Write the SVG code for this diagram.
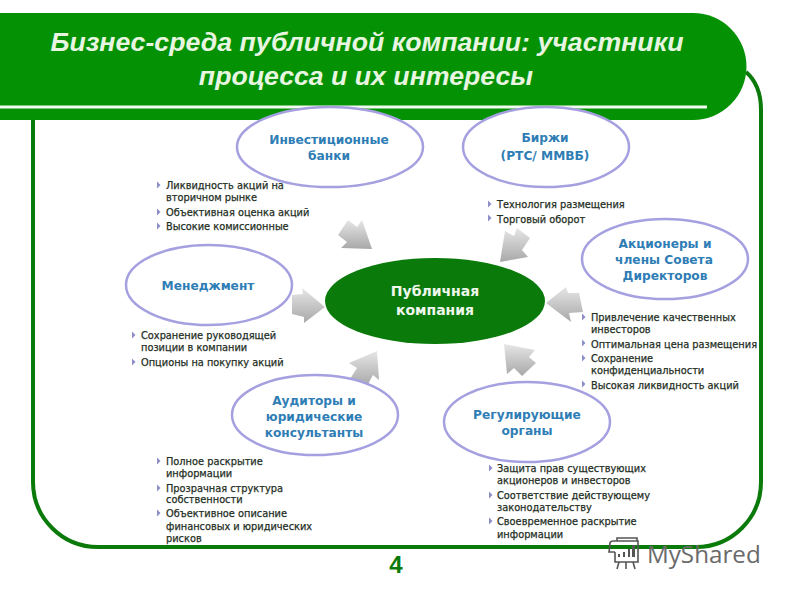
<svg xmlns="http://www.w3.org/2000/svg" width="800" height="600" viewBox="0 0 800 600">
<style>
text{font-family:"DejaVu Sans","Liberation Sans",sans-serif}
.t{font-family:"Liberation Sans",Arial,sans-serif;font-size:26.7px;font-weight:bold;font-style:italic;fill:#e8f5e0;text-anchor:middle}
.e{fill:#fff;stroke:#a5a0e0;stroke-width:2.5}
.n{font-size:12.2px;font-weight:bold;fill:#2e7db5;text-anchor:middle}
.c{font-size:14px;font-weight:bold;fill:#f0f8ee;text-anchor:middle}
.b{font-size:9.8px;fill:#1f2f1f;stroke:#1f2f1f;stroke-width:.25}
.m{fill:#8d8dc8}
.a{fill:url(#g)}
.l{fill:none;stroke:#555;stroke-width:1.6}
</style>
<defs>
<linearGradient id="g" x1="0" y1="0" x2="0" y2="1"><stop offset="0" stop-color="#e6e6e6"/><stop offset="1" stop-color="#a8a8a8"/></linearGradient>
<path id="tri" d="M0-3.500 3.500 0 0 3.500z" class="m"/>
</defs>
<rect width="800" height="600" fill="#fff"/>
<g id="frame"><path d="M33 110V482A65 65 0 0 0 98 547H696A65 65 0 0 0 761 482V110Q761 85 746 72" fill="none" stroke="#0a7a0a" stroke-width="4"/></g>
<g id="header">
<path d="M0 13H693A53.500 53.500 0 0 1 693 120H0z" fill="#049104"/>
<rect x="0" y="105.500" width="707" height="3" fill="#f2fbf0"/>
<text class="t" x="367" y="51">Бизнес-среда публичной компании: участники</text>
<text class="t" x="366" y="85">процесса и их интересы</text>
</g>
<g id="connectors">
<polygon class="a" points="338,235 348,220 357,227 362,220 372,249 341,248 347,242"/>
<polygon class="a" points="500,262 505,231 514,236 517,228 530,238 522,250 528,257"/>
<polygon class="a" points="546,303 566,287 568,293 579,293 583,312 569,313 571,322"/>
<polygon class="a" points="325,307 302,288 303,294 292,295 292,314 304,317 304,323"/>
<polygon class="a" points="377,351 349,363 357,368 350,379 367,386 373,375 379,380"/>
<polygon class="a" points="504,344 535,350 529,357 536,363 522,376 514,368 507,374"/>
</g>
<g id="center"><ellipse cx="435" cy="301" rx="110" ry="43" fill="#0a7a0a"/>
<text class="c" x="435" y="296">Публичная</text>
<text class="c" x="435" y="315">компания</text></g>
<g id="invest"><ellipse class="e" cx="330" cy="147" rx="93" ry="40"/>
<text class="n" x="329" y="144">Инвестиционные</text><text class="n" x="329" y="160">банки</text></g>
<g id="birzhi"><ellipse class="e" cx="546" cy="147" rx="83" ry="40"/>
<text class="n" x="545" y="142">Биржи</text><text class="n" x="545" y="160">(РТС/ ММВБ)</text></g>
<g id="akcionery"><ellipse class="e" cx="665" cy="259" rx="83" ry="40"/>
<text class="n" x="665" y="248">Акционеры и</text><text class="n" x="664" y="264">члены Совета</text><text class="n" x="665" y="280">Директоров</text></g>
<g id="menedzhment"><ellipse class="e" cx="209" cy="285" rx="83" ry="40"/>
<text class="n" x="208" y="290">Менеджмент</text></g>
<g id="auditory"><ellipse class="e" cx="315" cy="415" rx="83" ry="40"/>
<text class="n" x="314" y="405">Аудиторы и</text><text class="n" x="314" y="421">юридические</text><text class="n" x="314" y="437">консультанты</text></g>
<g id="reguliruyushchie"><ellipse class="e" cx="527" cy="422" rx="83" ry="40"/>
<text class="n" x="527" y="419">Регулирующие</text><text class="n" x="527" y="435">органы</text></g>
<g id="lists">
<use href="#tri" x="157" y="185"/><text class="b" x="166" y="189">Ликвидность акций на</text><text class="b" x="166" y="201">вторичном рынке</text>
<use href="#tri" x="157" y="212"/><text class="b" x="166" y="216">Объективная оценка акций</text>
<use href="#tri" x="157" y="226"/><text class="b" x="166" y="230">Высокие комиссионные</text>
<use href="#tri" x="488" y="204"/><text class="b" x="497" y="208">Технология размещения</text>
<use href="#tri" x="488" y="218"/><text class="b" x="497" y="223">Торговый оборот</text>
<use href="#tri" x="582" y="317"/><text class="b" x="591" y="321">Привлечение качественных</text><text class="b" x="591" y="333">инвесторов</text>
<use href="#tri" x="582" y="343"/><text class="b" x="591" y="348">Оптимальная цена размещения</text>
<use href="#tri" x="582" y="358"/><text class="b" x="591" y="362">Сохранение</text><text class="b" x="591" y="374">конфиденциальности</text>
<use href="#tri" x="582" y="384"/><text class="b" x="591" y="389">Высокая ликвидность акций</text>
<use href="#tri" x="132" y="335"/><text class="b" x="141" y="339">Сохранение руководящей</text><text class="b" x="141" y="351">позиции в компании</text>
<use href="#tri" x="132" y="362"/><text class="b" x="141" y="366">Опционы на покупку акций</text>
<use href="#tri" x="157" y="461"/><text class="b" x="166" y="465">Полное раскрытие</text><text class="b" x="166" y="477">информации</text>
<use href="#tri" x="157" y="488"/><text class="b" x="166" y="492">Прозрачная структура</text><text class="b" x="166" y="503">собственности</text>
<use href="#tri" x="157" y="513"/><text class="b" x="166" y="517">Объективное описание</text><text class="b" x="166" y="530">финансовых и юридических</text><text class="b" x="166" y="542">рисков</text>
<use href="#tri" x="489" y="468"/><text class="b" x="497" y="472">Защита прав существующих</text><text class="b" x="497" y="484">акционеров и инвесторов</text>
<use href="#tri" x="489" y="495"/><text class="b" x="497" y="499">Соответствие действующему</text><text class="b" x="497" y="511">законодательству</text>
<use href="#tri" x="489" y="521"/><text class="b" x="497" y="525">Своевременное раскрытие</text><text class="b" x="497" y="538">информации</text>
</g>
<text x="396" y="573" font-size="24" font-weight="bold" fill="#0a7a0a" text-anchor="middle" style="font-family:'Liberation Sans',sans-serif">4</text>
<g id="logo">
<path class="l" d="M613 541H638V562H615V552M613 541Q609 541 610 546L609 552H615M617 541V538H637V541M619 562L617 569M626 562V569M633 562L635 569"/>
<path d="M618 554h2v3h-2zM623 552h2v5h-2zM628 549h2v8h-2zM632 545h3v12h-3z" fill="#555"/>
<text x="647" y="563" font-size="24.200" fill="#6a6a6a" style="font-family:'Open Sans',sans-serif">MyShared</text>
</g>
</svg>
